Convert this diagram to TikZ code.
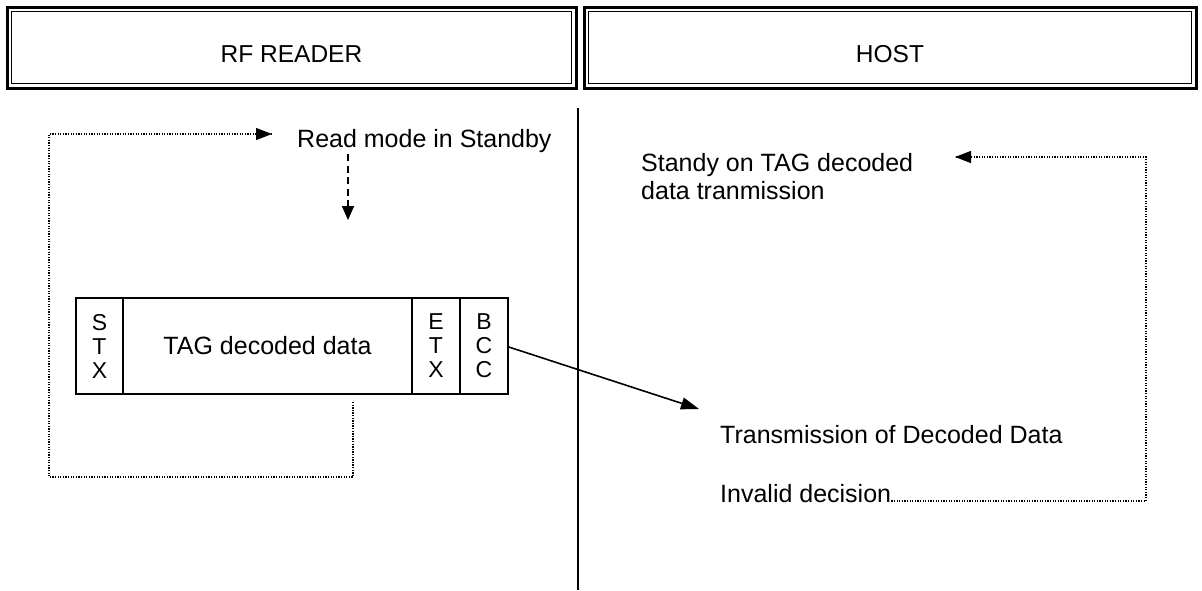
\documentclass[tikz,border=0pt]{standalone}
\usepackage{fontspec}
\setmainfont{Liberation Sans}
\usetikzlibrary{arrows.meta}
\begin{document}
\begin{tikzpicture}[x=1pt,y=-1pt,
  txt/.style={font=\fontsize{25}{28}\selectfont, inner sep=0pt},
  hdr/.style={draw, line width=3pt, minimum height=81pt, inner sep=0pt},
  hdrtxt/.style={font=\fontsize{24.5}{28}\selectfont, inner sep=0pt},
  cell/.style={draw, line width=1.6pt, minimum height=96pt, inner sep=0pt, font=\fontsize{23}{24}\selectfont, align=center},
  dotline/.style={line width=1.3pt, dash pattern=on 1.3pt off 1.3pt},
  tri/.style={-{Triangle[length=16pt,width=12pt]}}
]
\useasboundingbox (0,0) rectangle (1202,590);
% headers
\node[hdr, minimum width=569pt] (rf) at (291.5,47.5) {};
\node[hdr, minimum width=612pt] (host) at (890,47.5) {};
\draw[line width=1.8pt] ([shift={(6,6)}]rf.north west) rectangle ([shift={(-6,-6)}]rf.south east);
\draw[line width=1.8pt] ([shift={(6,6)}]host.north west) rectangle ([shift={(-6,-6)}]host.south east);
\node[hdrtxt] (rft) at (291.5,54) {RF READER};
\node[hdrtxt] (hostt) at (890,54) {HOST};
% divider
\coordinate (dtop) at (578,108);
\coordinate (dbot) at (578,590);
\draw[line width=1.6pt] (dtop) -- (dbot);
% frame
\node[cell, minimum width=47pt] (stx) at (99.5,346) {S\\T\\X};
\node[cell, minimum width=289pt, font=\fontsize{25}{26}\selectfont] (data) at (267.5,346) {TAG decoded data};
\node[cell, minimum width=48pt] (etx) at (436,346) {E\\T\\X};
\node[cell, minimum width=48pt] (bcc) at (484,346) {B\\C\\C};
% texts
\node[txt, anchor=base west] (read) at (297,147) {Read mode in Standby};
\node[txt, anchor=north west, align=left] (standy) at (641,153.5) {Standy on TAG decoded\\data tranmission};
\node[txt, anchor=base west] (trans) at (720,443) {Transmission of Decoded Data};
\node[txt, anchor=base west] (inval) at (720,502) {Invalid decision};
% left loop
\coordinate (l1) at (353,402);
\coordinate (l2) at (353,477);
\coordinate (l3) at (49,477);
\coordinate (l4) at (49,134);
\coordinate (l5) at (272,134);
\draw[dotline] (l1) -- (l2) -- (l3) -- (l4) -- (l5);
\draw[tri, line width=1.3pt] (262,134) -- (l5);
% dashed down arrow
\coordinate (da) at (348,154);
\coordinate (db) at (348,220);
\draw[line width=1.8pt, dash pattern=on 7pt off 4.5pt, -{Triangle[length=14pt,width=12pt]}] (da) -- (db);
% bcc to host
\coordinate (tip) at (699,409);
\draw[line width=1.6pt, -{Triangle[length=18pt,width=12pt]}] (bcc.east |- 0,347) -- (tip);
% right loop
\coordinate (r1) at (1146,501);
\coordinate (r2) at (1146,157);
\coordinate (r3) at (955,157);
\draw[dotline] (inval.base east) ++(0,-1) -- (r1) -- (r2) -- (r3);
\draw[tri, line width=1.3pt] (966,157) -- (r3);
\end{tikzpicture}
\end{document}
